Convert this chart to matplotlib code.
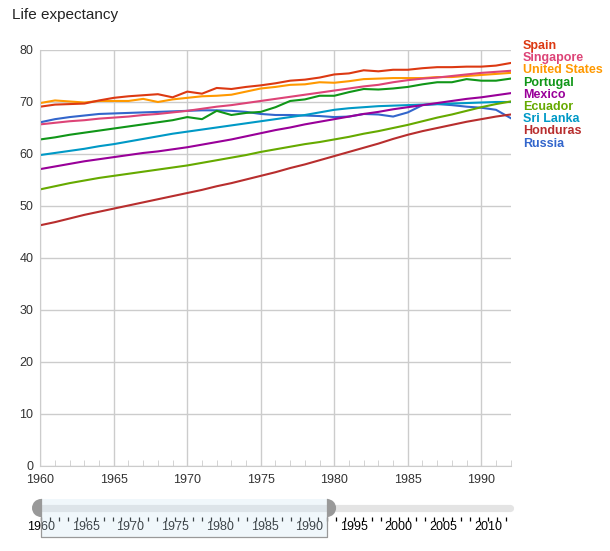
import matplotlib
matplotlib.use("Agg")
import matplotlib.pyplot as plt
from matplotlib.patches import Rectangle, Wedge
from matplotlib.ticker import MultipleLocator

plt.rcParams["font.family"] = ["Liberation Sans", "DejaVu Sans"]

years = list(range(1960, 1993))

countries = ["Spain", "Singapore", "United States", "Portugal", "Mexico",
             "Ecuador", "Sri Lanka", "Honduras", "Russia"]
colors = ["#dc3912", "#dd4477", "#ff9900", "#109618", "#990099",
          "#66aa00", "#0099c6", "#b82e2e", "#3366cc"]

spain = [69.1, 69.5, 69.6, 69.7, 70.3, 70.8, 71.1, 71.3, 71.5, 70.9, 72.0,
         71.6, 72.7, 72.5, 72.9, 73.2, 73.6, 74.1, 74.3, 74.7, 75.3, 75.5,
         76.1, 75.9, 76.2, 76.2, 76.5, 76.7, 76.7, 76.8, 76.8, 77.0, 77.5]
singapore = [65.7, 66.0, 66.3, 66.5, 66.8, 67.0, 67.2, 67.5, 67.7, 68.0, 68.3,
             68.7, 69.1, 69.4, 69.8, 70.2, 70.6, 71.0, 71.4, 71.8, 72.2, 72.6,
             73.0, 73.3, 73.8, 74.2, 74.5, 74.7, 75.0, 75.3, 75.6, 75.8, 76.0]
united_states = [69.8, 70.3, 70.1, 69.9, 70.2, 70.2, 70.2, 70.6, 70.0, 70.5, 70.8,
                 71.1, 71.2, 71.4, 72.0, 72.6, 72.9, 73.3, 73.4, 73.8, 73.7, 74.0,
                 74.4, 74.5, 74.6, 74.6, 74.6, 74.8, 74.8, 75.0, 75.2, 75.4, 75.6]
portugal = [62.8, 63.2, 63.7, 64.1, 64.5, 64.9, 65.3, 65.7, 66.1, 66.5, 67.1,
            66.7, 68.3, 67.5, 67.9, 68.1, 69.0, 70.2, 70.5, 71.2, 71.2, 71.9,
            72.5, 72.4, 72.6, 72.9, 73.4, 73.8, 73.8, 74.4, 74.1, 74.1, 74.5]
mexico = [57.1, 57.6, 58.1, 58.6, 59.0, 59.4, 59.8, 60.2, 60.5, 60.9, 61.3,
          61.8, 62.3, 62.8, 63.4, 64.0, 64.6, 65.1, 65.7, 66.2, 66.7, 67.2,
          67.7, 68.1, 68.6, 69.0, 69.4, 69.8, 70.2, 70.6, 70.9, 71.3, 71.7]
ecuador = [53.2, 53.8, 54.4, 54.9, 55.4, 55.8, 56.2, 56.6, 57.0, 57.4, 57.8,
           58.3, 58.8, 59.3, 59.8, 60.4, 60.9, 61.4, 61.9, 62.3, 62.8, 63.3,
           63.9, 64.4, 65.0, 65.6, 66.3, 67.0, 67.6, 68.3, 69.0, 69.6, 70.1]
sri_lanka = [59.8, 60.2, 60.6, 61.0, 61.5, 61.9, 62.4, 62.9, 63.4, 63.9, 64.3,
             64.7, 65.1, 65.5, 65.9, 66.3, 66.7, 67.1, 67.5, 68.0, 68.5, 68.8,
             69.0, 69.2, 69.3, 69.4, 69.5, 69.6, 69.7, 69.8, 69.9, 70.0, 70.0]
honduras = [46.3, 46.9, 47.6, 48.3, 48.9, 49.5, 50.1, 50.7, 51.3, 51.9, 52.5,
            53.1, 53.8, 54.4, 55.1, 55.8, 56.5, 57.3, 58.0, 58.8, 59.6, 60.4,
            61.2, 62.0, 62.9, 63.7, 64.4, 65.0, 65.6, 66.2, 66.7, 67.2, 67.6]
russia = [66.1, 66.7, 67.1, 67.4, 67.7, 67.8, 67.9, 68.0, 68.1, 68.2, 68.3,
          68.4, 68.4, 68.3, 68.1, 67.7, 67.5, 67.5, 67.4, 67.3, 67.1, 67.2,
          67.7, 67.6, 67.2, 68.0, 69.4, 69.6, 69.4, 69.1, 68.9, 68.5, 66.9]

series = [spain, singapore, united_states, portugal, mexico,
          ecuador, sri_lanka, honduras, russia]

slider_years = (1960, 2012)
slider_labels = list(range(1960, 2011, 5))
window = (1960, 1992)

W, H = 610, 551
fig = plt.figure(figsize=(W / 100, H / 100), dpi=100)


def frac(left, top, right, bottom):
    return [left / W, 1 - bottom / H, (right - left) / W, (bottom - top) / H]


fig.text(12 / W, 1 - 15 / H, "Life expectancy", fontsize=11, color="#222222",
         va="center", ha="left")

ax = fig.add_axes(frac(40.3, 50, 510.7, 466))
for name, vals, col in zip(countries[::-1], series[::-1], colors[::-1]):
    ax.plot(years, vals, color=col, lw=1.5, solid_joinstyle="round")

ax.set_xlim(1960, 1992)
ax.set_ylim(0, 80)
ax.xaxis.set_major_locator(MultipleLocator(5))
ax.xaxis.set_minor_locator(MultipleLocator(1))
ax.yaxis.set_major_locator(MultipleLocator(10))
ax.grid(True, color="#cccccc", lw=1)
ax.set_axisbelow(True)
for side in ["top", "right"]:
    ax.spines[side].set_visible(False)
ax.spines["left"].set_color("#cccccc")
ax.spines["bottom"].set_color("#cccccc")
ax.tick_params(axis="y", length=0, pad=5, labelsize=9, labelcolor="#333333")
ax.tick_params(axis="x", which="major", length=0, pad=6, labelsize=9,
               labelcolor="#333333")
ax.tick_params(axis="x", which="minor", direction="in", length=4,
               color="#cccccc")

# legend as coloured labels on the right
for i, (name, col) in enumerate(zip(countries, colors)):
    fig.text(523 / W, 1 - (46 + i * 12.2) / H, name, color=col, fontsize=9,
             fontweight="bold", va="center", ha="left")

# range slider below the chart
sx = fig.add_axes(frac(20, 488, 530, 545))
sx.set_xlim(20, 530)
sx.set_ylim(545, 488)
sx.axis("off")


def ypx(y):
    return 41 + (y - 1960) * 8.94


track_y = 508
sx.plot([ypx(slider_years[0]) - 2, ypx(slider_years[1]) + 4], [track_y, track_y],
        color="#e4e4e4", lw=5.2, solid_capstyle="round", zorder=1)
sx.vlines([ypx(y) for y in range(slider_years[0], slider_years[1] + 1)],
          517, 521, color="black", lw=0.9, zorder=2)
for y in slider_labels:
    sx.text(ypx(y), 527.5, str(y), fontsize=9, ha="center", va="center",
            color="black", zorder=2)

x0, x1 = ypx(window[0]), ypx(window[1])
sx.add_patch(Rectangle((x0, 499), x1 - x0, 38, facecolor="#cfe6f5", alpha=0.3,
                       edgecolor="none", zorder=3))
sx.plot([x0, x0, x1, x1], [499, 537, 537, 499], color="#999999", lw=0.9, zorder=4)
sx.add_patch(Wedge((x0, track_y), 9, 90, 270, facecolor="#999999",
                   edgecolor="none", zorder=5))
sx.add_patch(Wedge((x1, track_y), 9, -90, 90, facecolor="#999999",
                   edgecolor="none", zorder=5))

fig.savefig("out.png", dpi=100)
